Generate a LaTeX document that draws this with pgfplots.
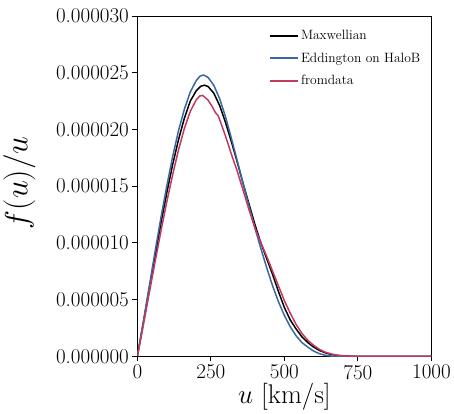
\RequirePackage{fix-cm}
\documentclass[border=0pt]{standalone}
\usepackage{pgfplots}
\pgfplotsset{compat=1.18}
\definecolor{cblue}{HTML}{3A67A3}
\definecolor{cred}{HTML}{C23B5E}
\begin{document}
\begin{tikzpicture}
\begin{axis}[
  scale only axis,
  width=293bp, height=339bp,
  xmin=0, xmax=1000, ymin=0, ymax=3e-5,
  xtick={0,250,500,750,1000},
  ytick={0,5e-6,1e-5,1.5e-5,2e-5,2.5e-5,3e-5},
  scaled y ticks=false,
  /pgf/number format/assume math mode=true,
  xticklabel style={font=\fontsize{21}{24}\selectfont,/pgf/number format/1000 sep={}},
  yticklabel style={font=\fontsize{21}{24}\selectfont,/pgf/number format/fixed,/pgf/number format/fixed zerofill,/pgf/number format/precision=6},
  tick align=outside,
  xtick pos=bottom, ytick pos=left,
  major tick length=5bp,
  tick style={line width=0.8pt,black},
  axis line style={line width=0.8pt},
  xlabel={$u$ [km/s]},
  ylabel={$f(u)/u$},
  xlabel style={font=\fontsize{27}{30}\selectfont, yshift=3bp},
  ylabel style={font=\fontsize{32}{34}\selectfont, at={(axis description cs:-0.335,0.51)}, anchor=south},
  legend style={draw=none, fill=none, at={(0.98,0.97)}, anchor=north east,
    font=\fontsize{13.5}{15}\selectfont, row sep=7.5bp},
  legend cell align=left,
  legend image code/.code={\draw[#1] (0cm,0cm) -- (1cm,0cm);},
]
\addlegendimage{black, line width=1.8pt}
\addlegendentry{Maxwellian}
\addlegendimage{cblue, line width=1.8pt}
\addlegendentry{Eddington on HaloB}
\addlegendimage{cred, line width=1.8pt}
\addlegendentry{fromdata}
\addplot[black, line width=1.5pt, forget plot] coordinates {
(0,0) (20,2.9e-6) (40,5.9e-6) (60,8.8e-6) (80,11.7e-6) (100,14.4e-6) (120,16.9e-6)
(140,19.1e-6) (160,21.0e-6) (180,22.5e-6) (200,23.4e-6) (215,23.8e-6) (228,23.9e-6)
(240,23.8e-6) (260,23.2e-6) (280,22.1e-6) (300,20.6e-6) (320,18.9e-6) (340,17.1e-6)
(360,15.2e-6) (380,13.4e-6) (400,11.6e-6) (420,10.0e-6) (440,8.6e-6) (460,7.2e-6)
(480,5.7e-6) (500,4.3e-6) (520,3.2e-6) (540,2.4e-6) (560,1.7e-6) (580,1.2e-6)
(600,0.8e-6) (620,0.5e-6) (640,0.3e-6) (660,0.15e-6) (680,0.06e-6) (700,0.02e-6)
(720,0) (1000,0)
};
\addplot[cblue, line width=1.5pt, forget plot] coordinates {
(0,0) (20,3.0e-6) (40,6.1e-6) (60,9.2e-6) (80,12.2e-6) (100,15.0e-6) (120,17.6e-6)
(140,19.9e-6) (160,21.8e-6) (180,23.3e-6) (200,24.3e-6) (213,24.7e-6) (225,24.8e-6)
(240,24.6e-6) (260,23.9e-6) (280,22.7e-6) (300,21.1e-6) (320,19.2e-6) (340,17.2e-6) (360,15.2e-6)
(380,13.2e-6) (400,11.3e-6) (420,9.5e-6) (440,7.8e-6) (460,6.2e-6) (480,4.8e-6)
(500,3.6e-6) (520,2.6e-6) (540,1.8e-6) (560,1.2e-6) (580,0.8e-6) (600,0.45e-6)
(620,0.22e-6) (640,0.08e-6) (660,0.02e-6) (680,0) (1000,0)
};
\addplot[cred, line width=1.5pt, forget plot] coordinates {
(0,0) (20,2.7e-6) (40,5.5e-6) (60,8.3e-6) (80,11.0e-6) (100,13.6e-6) (120,16.0e-6)
(140,18.2e-6) (160,20.1e-6) (180,21.6e-6) (200,22.6e-6) (212,22.95e-6) (222,23.0e-6)
(240,22.6e-6) (255,22.0e-6) (265,21.5e-6) (275,21.2e-6) (285,20.5e-6) (300,19.4e-6)
(320,17.8e-6) (340,16.3e-6) (360,14.6e-6) (380,12.9e-6) (400,11.3e-6) (420,10.0e-6)
(440,8.8e-6) (460,7.5e-6) (480,6.2e-6) (500,4.9e-6) (520,3.8e-6) (540,2.8e-6)
(560,2.0e-6) (580,1.4e-6) (600,0.95e-6) (620,0.6e-6) (640,0.35e-6) (660,0.2e-6)
(680,0.1e-6) (700,0.04e-6) (720,0.01e-6) (740,0) (1000,0)
};
\end{axis}
\path ([yshift=16bp]current axis.north);
\end{tikzpicture}
\end{document}
